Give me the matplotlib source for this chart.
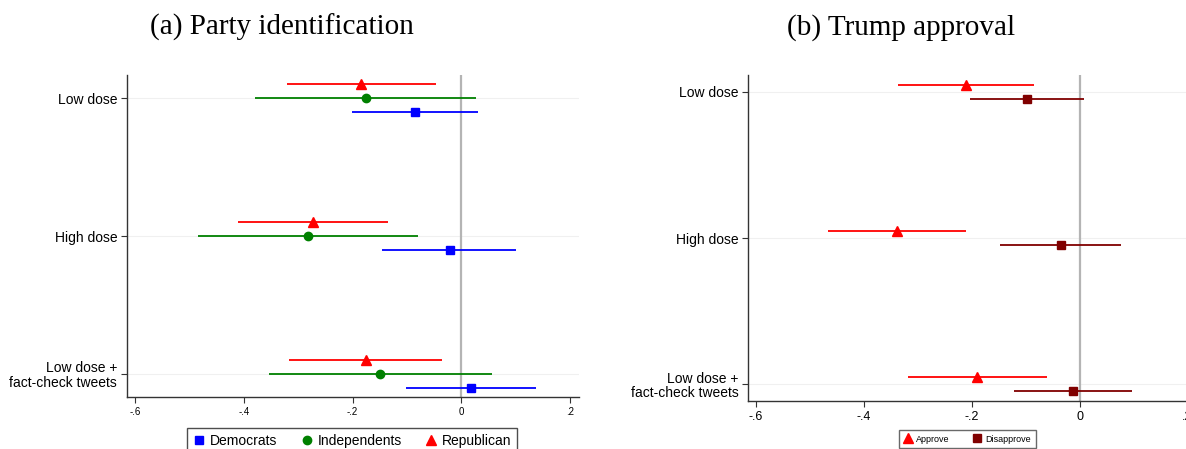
import matplotlib
matplotlib.use("Agg")
import matplotlib.pyplot as plt
from matplotlib.lines import Line2D
import numpy as np

# ---- data ----
categories = ["Low dose", "High dose", "Low dose +\nfact-check tweets"]

# Panel (a): party identification
rep_est = [-0.184, -0.273, -0.175]
rep_lo = [-0.320, -0.411, -0.316]
rep_hi = [-0.047, -0.135, -0.035]
ind_est = [-0.176, -0.282, -0.149]
ind_lo = [-0.379, -0.485, -0.354]
ind_hi = [0.027, -0.080, 0.056]
dem_est = [-0.085, -0.021, 0.018]
dem_lo = [-0.201, -0.145, -0.101]
dem_hi = [0.031, 0.101, 0.137]

# Panel (b): Trump approval
app_est = [-0.211, -0.338, -0.190]
app_lo = [-0.336, -0.466, -0.319]
app_hi = [-0.085, -0.211, -0.061]
dis_est = [-0.098, -0.034, -0.012]
dis_lo = [-0.204, -0.147, -0.121]
dis_hi = [0.009, 0.077, 0.098]

xticks = [-0.6, -0.4, -0.2, 0, 0.2]
xticklabels = ["-.6", "-.4", "-.2", "0", ".2"]

plt.rcParams['font.family'] = ['Liberation Sans', 'DejaVu Sans']

fig = plt.figure(figsize=(11.86, 4.49), dpi=100)
axA = fig.add_axes([0.107, 0.1158, 0.381, 0.717])
axB = fig.add_axes([0.6307, 0.1069, 0.3777, 0.726])

ypos = np.arange(len(categories))


def draw(ax, series, ylim, xtick_fs):
    for est, lo, hi, color, marker, ms, label, o in series:
        est = np.array(est); lo = np.array(lo); hi = np.array(hi)
        ax.errorbar(est, ypos + o, xerr=[est - lo, hi - est], fmt=marker,
                    color=color, ecolor=color, elinewidth=1.3, capsize=0,
                    markersize=ms, label=label, zorder=3)
    ax.axvline(0, color='#b4b4b4', lw=1.6, zorder=1)
    for y in ypos:
        ax.axhline(y, color='#f0f0f0', lw=0.8, zorder=0)
    ax.set_yticks(ypos)
    ax.set_yticklabels(categories, fontsize=10, linespacing=1.05)
    ax.set_ylim(*ylim)
    ax.set_xlim(-0.615, 0.216)
    ax.set_xticks(xticks)
    ax.set_xticklabels(xticklabels, fontsize=xtick_fs)
    ax.spines['top'].set_visible(False)
    ax.spines['right'].set_visible(False)
    for s in ['left', 'bottom']:
        ax.spines[s].set_color('#333333')
        ax.spines[s].set_linewidth(1.0)
    ax.tick_params(axis='both', direction='out', length=4, width=0.8, color='#333333')
    ax.tick_params(axis='y', pad=3)
    ax.tick_params(axis='x', pad=3)


draw(axA, [
    (rep_est, rep_lo, rep_hi, '#ff0000', '^', 6.5, 'Republican', -0.1),
    (ind_est, ind_lo, ind_hi, '#008000', 'o', 6, 'Independents', 0.0),
    (dem_est, dem_lo, dem_hi, '#0000ff', 's', 6, 'Democrats', 0.1),
], (2.167, -0.167), 7)

draw(axB, [
    (app_est, app_lo, app_hi, '#ff0000', '^', 6.5, 'Approve', -0.05),
    (dis_est, dis_lo, dis_hi, '#800000', 's', 6, 'Disapprove', 0.05),
], (2.116, -0.116), 9)

# legends
legA_handles = [Line2D([], [], marker='s', color='#0000ff', ls='none', markersize=6),
                Line2D([], [], marker='o', color='#008000', ls='none', markersize=6),
                Line2D([], [], marker='^', color='#ff0000', ls='none', markersize=7)]
legA = fig.legend(legA_handles, ["Democrats", "Independents", "Republican"],
                  loc='upper center', bbox_to_anchor=(0.2968, 0.0468), ncol=3,
                  fontsize=10, frameon=True, fancybox=False, edgecolor='#222222',
                  handletextpad=0.3, columnspacing=1.6, handlelength=1.0,
                  borderpad=0.4, borderaxespad=0)
legA.get_frame().set_linewidth(1.0)

legB_handles = [Line2D([], [], marker='^', color='#ff0000', ls='none', markersize=6.5),
                Line2D([], [], marker='s', color='#800000', ls='none', markersize=6)]
legB = fig.legend(legB_handles, ["Approve", "Disapprove"],
                  loc='upper center', bbox_to_anchor=(0.8155, 0.0423), ncol=2,
                  fontsize=6.5, frameon=True, fancybox=False, edgecolor='#444444',
                  handletextpad=0.4, columnspacing=2.6, handlelength=1.0,
                  borderpad=0.5, borderaxespad=0)
legB.get_frame().set_linewidth(1.0)

# titles
fig.text(0.238, 0.938, "(a) Party identification", ha='center', va='center',
         fontsize=21, family='Liberation Serif')
fig.text(0.7595, 0.938, "(b) Trump approval", ha='center', va='center',
         fontsize=21, family='Liberation Serif')

fig.savefig("out.png", dpi=100)
